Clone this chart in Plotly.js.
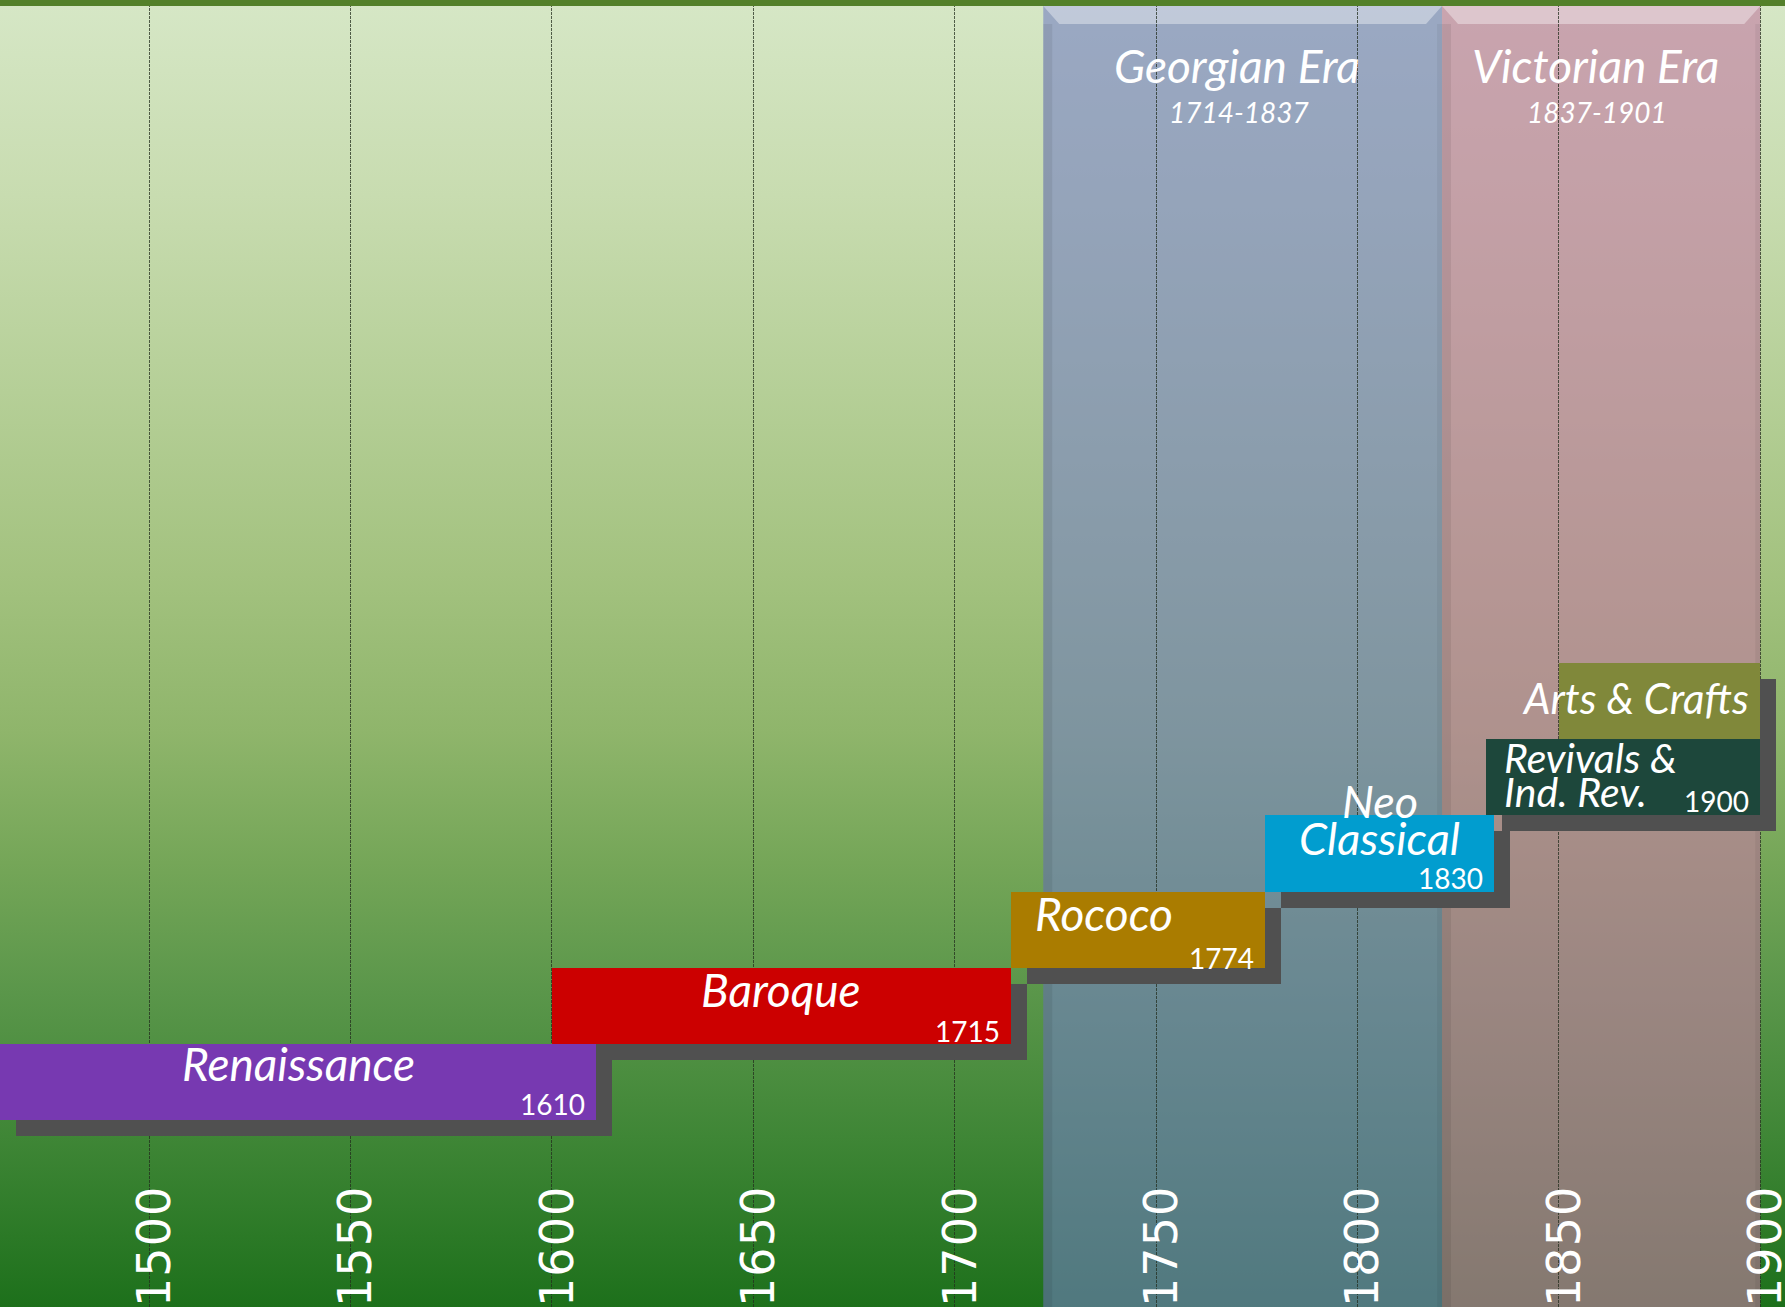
<!DOCTYPE html>
<html>
<head>
<meta charset="utf-8">
<script src="https://cdn.plot.ly/plotly-3.0.1.min.js"></script>
<style>
html, body { margin: 0; padding: 0; overflow: hidden; background: #1d6f1c; }
#chart {
  width: 1785px; height: 1307px;
  background: linear-gradient(to bottom,
    #d6e7c6 0%, #c8dcb0 15%, #b5cf97 30%, #a3c27f 44%, #8fb56b 56%,
    #75a658 66%, #5a964a 76%, #3f8636 87%, #1d701b 100%);
}
.xtick text { letter-spacing: 1px; }
</style>
</head>
<body>
<div id="chart"></div>
<script>
// ---- data ----
const periods = ['Renaissance', 'Baroque', 'Rococo', 'Neo Classical', 'Revivals & Ind. Rev.', 'Arts & Crafts'];
const periodLines = [['Renaissance'], ['Baroque'], ['Rococo'], ['Neo', 'Classical'], ['Revivals &', 'Ind. Rev.'], ['Arts & Crafts']];
const periodStart = [1463, 1600, 1714, 1777, 1832, 1850];
const periodEnd = [1611, 1714, 1777, 1834, 1900, 1900];
const periodEndLabel = ['1610', '1715', '1774', '1830', '1900', ''];
const eras = ['Georgian Era', 'Victorian Era'];
const eraYears = ['1714-1837', '1837-1901'];
const eraStart = [1722, 1821];
const eraEnd = [1821, 1900];
const tickYears = [1500, 1550, 1600, 1650, 1700, 1750, 1800, 1850, 1900];
const tickLabels = ['1500', '1550', '1600', '1650', '1700', '1750', '1800', '1850', '1900'];

// ---- styles ----
const W = 1785, H = 1307;
const xRange = [1463, 1906.15];
const yRange = [-2.953, 14.2];
const pxPerYear = W / (xRange[1] - xRange[0]);
const pxPerUnit = H / (yRange[1] - yRange[0]);
const periodColors = ['#7739b1', '#cc0000', '#aa7c00', '#019dcf', '#1d473b', '#80883a'];
const shadowColor = '#505050';
const shadowPx = 16;
const eraFill = ['rgba(115,126,194,0.60)', 'rgba(193,125,161,0.63)'];
// label placement per bar: anchor, x shift, y shift of first line (px, down), line gap, font size
const nameStyle = [
  {anchor: 'center', dx: 0, dy: -18, gap: 0, size: 46},
  {anchor: 'center', dx: 0, dy: -16, gap: 0, size: 46},
  {anchor: 'left', dx: 22, dy: -16, gap: 0, size: 46},
  {anchor: 'center', dx: 0, dy: -52, gap: 37, size: 45},
  {anchor: 'left', dx: 16, dy: -20, gap: 34, size: 41},
  {anchor: 'right', dx: -9, dy: -3, gap: 0, size: 42}
];
const yearDy = [22, 25, 28, 25, 24, 0];

const idx = periods.map((_, i) => i);
const dur = periods.map((_, i) => periodEnd[i] - periodStart[i]);

const shadowTrace = {
  type: 'bar', orientation: 'h', y: idx, x: dur,
  base: periodStart.map(s => s + shadowPx / pxPerYear),
  width: 1, offset: -0.5 - shadowPx / pxPerUnit,
  marker: {color: shadowColor, line: {width: 0}},
  hoverinfo: 'skip', showlegend: false
};
const barTrace = {
  type: 'bar', orientation: 'h', y: idx, x: dur, base: periodStart,
  width: 1, offset: -0.5,
  marker: {color: periodColors, line: {width: 0}},
  text: periods, textposition: 'none',
  hovertemplate: '%{text}: %{base}–%{x}<extra></extra>', showlegend: false
};

const shapes = [];
const topY = 1 - 6 / H;
eras.forEach((e, i) => {
  shapes.push({type: 'rect', xref: 'x', yref: 'paper', x0: eraStart[i], x1: eraEnd[i], y0: 0, y1: topY,
    fillcolor: eraFill[i], line: {width: 0}, layer: 'between'});
  const d = 16 / pxPerYear, h = 18 / H;
  shapes.push({type: 'path', xref: 'x', yref: 'paper', layer: 'between', line: {width: 0},
    fillcolor: 'rgba(255,255,255,0.38)',
    path: `M${eraStart[i]},${topY} L${eraEnd[i]},${topY} L${eraEnd[i] - d},${topY - h} L${eraStart[i] + d},${topY - h} Z`});
  shapes.push({type: 'rect', xref: 'x', yref: 'paper', x0: eraStart[i], x1: eraStart[i] + 9 / pxPerYear, y0: 0, y1: topY - h,
    fillcolor: 'rgba(0,0,0,0.07)', line: {width: 0}, layer: 'between'});
  shapes.push({type: 'rect', xref: 'x', yref: 'paper', x0: eraEnd[i] - 5 / pxPerYear, x1: eraEnd[i], y0: 0, y1: topY - h,
    fillcolor: 'rgba(0,0,0,0.05)', line: {width: 0}, layer: 'between'});
});
shapes.push({type: 'rect', xref: 'paper', yref: 'paper', x0: 0, x1: 1, y0: topY, y1: 1,
  fillcolor: '#53802a', line: {width: 0}, layer: 'above'});

const annotations = [];
const nameFont = s => ({family: 'Lato, "Open Sans", sans-serif', size: s, color: '#ffffff', style: 'italic'});
periods.forEach((p, i) => {
  const st = nameStyle[i];
  let xa = st.anchor === 'left' ? periodStart[i] : st.anchor === 'right' ? periodEnd[i] : (periodStart[i] + periodEnd[i]) / 2;
  periodLines[i].forEach((line, k) => {
    annotations.push({xref: 'x', yref: 'y', x: xa, y: i, text: line, showarrow: false,
      xanchor: st.anchor, yanchor: 'middle', xshift: st.dx, yshift: -(st.dy + k * st.gap),
      font: nameFont(st.size)});
  });
  if (periodEndLabel[i]) {
    annotations.push({xref: 'x', yref: 'y', x: periodEnd[i], y: i, text: periodEndLabel[i], showarrow: false,
      xanchor: 'right', yanchor: 'middle', xshift: -9, yshift: -yearDy[i],
      font: {family: 'Lato, "Open Sans", sans-serif', size: 28, color: '#ffffff'}});
  }
});
eras.forEach((e, i) => {
  const xm = (eraStart[i] + eraEnd[i]) / 2;
  annotations.push({xref: 'x', yref: 'paper', x: xm, y: 1 - 65 / H, text: e, showarrow: false,
    xanchor: 'center', yanchor: 'middle', xshift: -6, font: nameFont(46)});
  annotations.push({xref: 'x', yref: 'paper', x: xm, y: 1 - 112 / H, text: eraYears[i], showarrow: false,
    xanchor: 'center', yanchor: 'middle', xshift: -4, font: nameFont(28)});
});

const layout = {
  width: W, height: H,
  margin: {l: 0, r: 0, t: 0, b: 0, pad: 0},
  paper_bgcolor: 'rgba(0,0,0,0)', plot_bgcolor: 'rgba(0,0,0,0)',
  barmode: 'overlay', bargap: 0,
  showlegend: false,
  xaxis: {
    range: xRange, fixedrange: true, zeroline: false, showline: false,
    tickmode: 'array', tickvals: tickYears, ticktext: tickLabels,
    showgrid: true, gridcolor: 'rgba(35,45,30,0.75)', gridwidth: 1, griddash: '3px,1px',
    ticks: '', ticklabelposition: 'inside', tickangle: -90, ticklabelstandoff: -19,
    ticklabelshift: 6, ticklabeloverflow: 'allow',
    tickfont: {family: '"DejaVu Sans", sans-serif', size: 46, color: '#ffffff'},
    automargin: false
  },
  yaxis: {range: yRange, visible: false, showgrid: false, zeroline: false, fixedrange: true, automargin: false},
  shapes: shapes,
  annotations: annotations
};

Plotly.newPlot('chart', [shadowTrace, barTrace], layout, {displayModeBar: false, staticPlot: true});
</script>
</body>
</html>
